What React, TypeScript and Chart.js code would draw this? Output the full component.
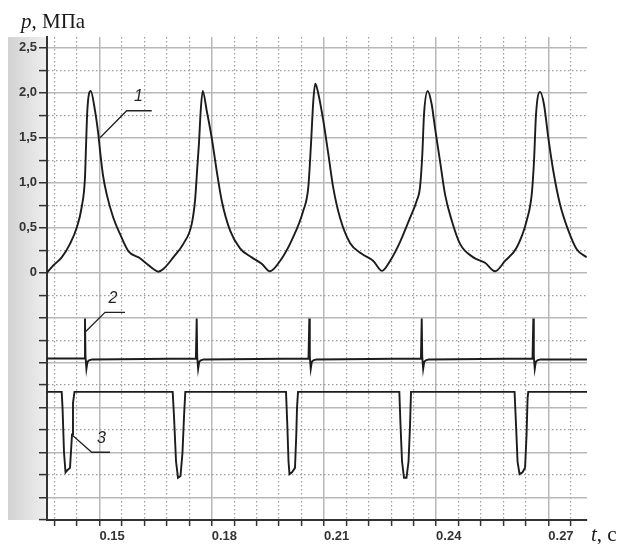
import { useEffect, useRef } from "react";
import { Chart, registerables } from "chart.js";
Chart.register(...registerables);

// Curve 1: pressure p, MPa
const p1Time = [0.13596, 0.13765, 0.13989, 0.14211, 0.1439, 0.14524, 0.14612, 0.14639, 0.14674, 0.14765, 0.1488, 0.14968, 0.15013, 0.15094, 0.15193, 0.15369, 0.15548, 0.1577, 0.16083, 0.16262, 0.16439, 0.16572, 0.16706, 0.16973, 0.17241, 0.17465, 0.17554, 0.17615, 0.17661, 0.17706, 0.1776, 0.17867, 0.18, 0.18134, 0.18268, 0.1849, 0.18757, 0.1907, 0.19337, 0.19559, 0.19827, 0.20139, 0.2045, 0.20583, 0.20655, 0.20717, 0.2077, 0.20851, 0.20984, 0.21118, 0.21252, 0.21431, 0.21698, 0.22011, 0.22321, 0.22554, 0.22768, 0.23035, 0.23303, 0.23482, 0.2357, 0.23632, 0.23677, 0.23776, 0.23883, 0.23971, 0.24105, 0.24239, 0.24418, 0.2464, 0.24995, 0.25308, 0.25576, 0.25843, 0.26156, 0.26423, 0.26557, 0.26618, 0.26672, 0.26779, 0.26885, 0.27, 0.27134, 0.27313, 0.27535, 0.2776, 0.28027];
const p1Values = [0.0, 0.08, 0.17, 0.32, 0.5, 0.73, 1.06, 1.4, 1.8, 2.02, 1.8, 1.54, 1.36, 1.08, 0.87, 0.61, 0.43, 0.24, 0.16, 0.1, 0.04, 0.01, 0.04, 0.17, 0.32, 0.54, 0.8, 1.17, 1.45, 1.8, 2.02, 1.8, 1.5, 1.13, 0.8, 0.47, 0.27, 0.17, 0.1, 0.015, 0.13, 0.36, 0.69, 0.95, 1.43, 1.91, 2.1, 1.99, 1.69, 1.32, 0.94, 0.61, 0.33, 0.21, 0.13, 0.02, 0.13, 0.34, 0.61, 0.8, 0.95, 1.32, 1.76, 2.02, 1.87, 1.61, 1.24, 0.87, 0.58, 0.32, 0.17, 0.11, 0.015, 0.13, 0.28, 0.58, 0.87, 1.24, 1.76, 2.01, 1.87, 1.5, 1.13, 0.76, 0.47, 0.26, 0.17];

// Curve 2: spikes
const s2Time = [0.13596,
  0.1459, 0.14612, 0.14625, 0.1465, 0.1468, 0.1472, 0.148,
  0.17577, 0.17599, 0.17612, 0.17637, 0.17667, 0.17707, 0.17787,
  0.20588, 0.2061, 0.20623, 0.20648, 0.20678, 0.20718, 0.20798,
  0.23594, 0.23616, 0.23629, 0.23654, 0.23684, 0.23724, 0.23804,
  0.26578, 0.266, 0.26613, 0.26638, 0.26668, 0.26708, 0.26788,
  0.28035];
const s2Values = [-0.955,
  -0.955, -0.51, -0.93, -1.07, -0.99, -0.975, -0.965,
  -0.955, -0.51, -0.93, -1.07, -0.99, -0.975, -0.965,
  -0.955, -0.51, -0.93, -1.07, -0.99, -0.975, -0.965,
  -0.955, -0.51, -0.93, -1.07, -0.99, -0.975, -0.965,
  -0.955, -0.51, -0.93, -1.07, -0.99, -0.975, -0.965,
  -0.965];

// Curve 3: pulses
const s3Time = [0.13596,
  0.13989, 0.14011, 0.14051, 0.14091, 0.14131, 0.14211, 0.14265, 0.14291, 0.14331,
  0.16957, 0.16992, 0.17046, 0.17099, 0.17166, 0.17219, 0.1726, 0.17294,
  0.19987, 0.20022, 0.20054, 0.2008, 0.20147, 0.20227, 0.20262, 0.20281, 0.20308,
  0.23017, 0.23049, 0.23089, 0.23142, 0.23209, 0.23263, 0.23303, 0.23329,
  0.26098, 0.26138, 0.26178, 0.26232, 0.26312, 0.26379, 0.26419, 0.26446, 0.26464,
  0.28035];
const s3Values = [-1.325,
  -1.325, -1.5, -2.0, -2.22, -2.2, -2.17, -1.8, -1.45, -1.325,
  -1.325, -1.6, -2.1, -2.28, -2.26, -2.0, -1.6, -1.325,
  -1.325, -1.7, -2.1, -2.24, -2.22, -2.17, -1.8, -1.5, -1.325,
  -1.325, -1.7, -2.1, -2.28, -2.28, -2.1, -1.7, -1.325,
  -1.325, -1.7, -2.1, -2.24, -2.22, -2.17, -1.8, -1.4, -1.325,
  -1.325];

// Axes
const xMin = 0.13596;
const xMax = 0.28035;
const yMin = -2.75;
const yMax = 2.62;
const xTicks = [0.138, 0.144, 0.15, 0.156, 0.162, 0.168, 0.174, 0.18, 0.186, 0.192, 0.198, 0.204, 0.21, 0.216, 0.222, 0.228, 0.234, 0.24, 0.246, 0.252, 0.258, 0.264, 0.27, 0.276];
const xLabelValues = [0.15, 0.18, 0.21, 0.24, 0.27];
const xLabelTexts = ["0.15", "0.18", "0.21", "0.24", "0.27"];
const yTicks = [-2.75, -2.5, -2.25, -2, -1.75, -1.5, -1.25, -1, -0.75, -0.5, -0.25, 0, 0.25, 0.5, 0.75, 1, 1.25, 1.5, 1.75, 2, 2.25, 2.5];
const yLabelValues = [0, 0.5, 1, 1.5, 2, 2.5];
const yLabelTexts = ["0", "0,5", "1,0", "1,5", "2,0", "2,5"];

// Curve labels (leader polyline in data units, text position)
const curveLabels = ["1", "2", "3"];
const leaderPaths = [
  [[0.15013, 1.5], [0.15727, 1.8], [0.16396, 1.8]],
  [[0.14612, -0.663], [0.15147, -0.441], [0.15682, -0.441]],
  [[0.14283, -1.811], [0.14791, -1.997], [0.15281, -1.997]],
];
const labelPositions = [[0.16043, 1.96], [0.15361, -0.289], [0.15053, -1.84]];

const near = (a: number, b: number) => Math.abs(a - b) < 1e-6;
const isMajorX = (v: number) => xLabelValues.some((m) => near(m, v));
const isMajorY = (v: number) => near(v / 0.5, Math.round(v / 0.5));

const toXY = (t: number[], v: number[]) => t.map((x, i) => ({ x, y: v[i] }));

const decorPlugin = {
  id: "decor",
  beforeDraw(chart: any) {
    const { ctx, chartArea } = chart;
    ctx.save();
    const g = ctx.createLinearGradient(8, 0, chartArea.left, 0);
    g.addColorStop(0, "#d2d2d2");
    g.addColorStop(1, "#efefef");
    ctx.fillStyle = g;
    ctx.fillRect(8, chartArea.top, chartArea.left - 9, chartArea.bottom - chartArea.top);
    ctx.restore();
  },
  afterDraw(chart: any) {
    const { ctx, scales } = chart;
    const xs = scales.x;
    const ys = scales.y;
    ctx.save();
    ctx.strokeStyle = "#222";
    ctx.lineWidth = 1.3;
    leaderPaths.forEach((path) => {
      ctx.beginPath();
      path.forEach(([t, v], i) => {
        const px = xs.getPixelForValue(t);
        const py = ys.getPixelForValue(v);
        if (i === 0) ctx.moveTo(px, py);
        else ctx.lineTo(px, py);
      });
      ctx.stroke();
    });
    ctx.fillStyle = "#222";
    ctx.font = "italic 16px 'Liberation Sans', Arial, sans-serif";
    ctx.textAlign = "center";
    ctx.textBaseline = "middle";
    curveLabels.forEach((lab, i) => {
      const [t, v] = labelPositions[i];
      ctx.fillText(lab, xs.getPixelForValue(t), ys.getPixelForValue(v));
    });
    ctx.textAlign = "left";
    ctx.textBaseline = "alphabetic";
    ctx.fillStyle = "#1a1a1a";
    ctx.font = "italic 21px 'Liberation Serif', 'Times New Roman', serif";
    ctx.fillText("p", 21, 28);
    let w = ctx.measureText("p").width;
    ctx.font = "21px 'Liberation Serif', 'Times New Roman', serif";
    ctx.fillText(", МПа", 21 + w, 28);
    ctx.font = "italic 21px 'Liberation Serif', 'Times New Roman', serif";
    ctx.fillText("t", 591, 541);
    w = ctx.measureText("t").width;
    ctx.font = "21px 'Liberation Serif', 'Times New Roman', serif";
    ctx.fillText(", с", 591 + w, 541);
    ctx.restore();
  },
};

export default function App() {
  const ref = useRef<HTMLCanvasElement>(null);
  useEffect(() => {
    document.body.style.margin = "0";
    if (!ref.current) return;
    const tickFont = { family: "'Liberation Sans', Arial, sans-serif", size: 13, weight: "bold" as const };
    const chart = new Chart(ref.current, {
      type: "line",
      data: {
        datasets: [
          { data: toXY(p1Time, p1Values), borderColor: "#1c1c1c", borderWidth: 1.9, pointRadius: 0, fill: false, cubicInterpolationMode: "monotone" },
          { data: toXY(s2Time, s2Values), borderColor: "#1c1c1c", borderWidth: 1.9, pointRadius: 0, fill: false, tension: 0 },
          { data: toXY(s3Time, s3Values), borderColor: "#1c1c1c", borderWidth: 1.9, pointRadius: 0, fill: false, tension: 0 },
        ],
      },
      options: {
        responsive: false,
        animation: false,
        events: [],
        layout: { padding: { left: 0, top: 37, right: 40, bottom: 0 } },
        plugins: { legend: { display: false }, tooltip: { enabled: false } },
        scales: {
          x: {
            type: "linear",
            min: xMin,
            max: xMax,
            afterBuildTicks: (s: any) => { s.ticks = xTicks.map((v) => ({ value: v })); },
            afterFit: (s: any) => { s.height = 24; },
            ticks: {
              autoSkip: false,
              maxRotation: 0,
              minRotation: 0,
              align: "start",
              padding: 3,
              color: "#333",
              font: tickFont,
              callback: (v: any) => {
                const i = xLabelValues.findIndex((m) => near(m, Number(v)));
                return i >= 0 ? xLabelTexts[i] : "";
              },
            },
            grid: {
              color: (c: any) => (c.tick && !isMajorX(c.tick.value) ? "#9c9c9c" : "#b8b8b8"),
              lineWidth: (c: any) => (c.tick && !isMajorX(c.tick.value) ? 1.2 : 1.5),
              tickColor: "#333",
              tickWidth: 1.5,
              tickLength: 6,
            },
            border: {
              color: "#333",
              width: 2,
              dash: (c: any) => (c.tick && !isMajorX(c.tick.value) ? [1.5, 2.5] : []),
            },
          },
          y: {
            type: "linear",
            min: yMin,
            max: yMax,
            afterBuildTicks: (s: any) => { s.ticks = yTicks.map((v) => ({ value: v })); },
            afterFit: (s: any) => { s.width = 47; },
            ticks: {
              autoSkip: false,
              padding: 2,
              color: "#333",
              font: tickFont,
              callback: (v: any) => {
                const i = yLabelValues.findIndex((m) => near(m, Number(v)));
                return i >= 0 ? yLabelTexts[i] : "";
              },
            },
            grid: {
              color: (c: any) => (c.tick && !isMajorY(c.tick.value) ? "#9c9c9c" : "#b8b8b8"),
              lineWidth: (c: any) => (c.tick && !isMajorY(c.tick.value) ? 1.2 : 1.5),
              tickColor: "#333",
              tickWidth: 1.5,
              tickLength: 8,
            },
            border: {
              color: "#333",
              width: 2,
              dash: (c: any) => (c.tick && !isMajorY(c.tick.value) ? [1.5, 2.5] : []),
            },
          },
        },
      },
      plugins: [decorPlugin],
    } as any);
    return () => chart.destroy();
  }, []);
  return <canvas ref={ref} width={627} height={544} style={{ display: "block" }} />;
}
